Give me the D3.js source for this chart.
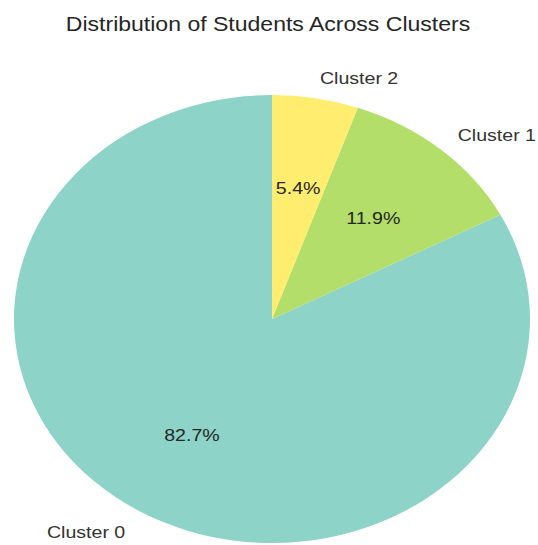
<!DOCTYPE html>
<html>
<head>
<meta charset="utf-8">
<script src="https://cdn.jsdelivr.net/npm/d3@7/dist/d3.min.js"></script>
<style>
  html, body { margin: 0; padding: 0; background: #ffffff; }
  svg { display: block; }
  text { font-family: "Liberation Sans", Arial, sans-serif; }
</style>
</head>
<body>
<svg id="chart" width="538" height="545"></svg>
<script>
// Cluster shares (percent of students)
const clusters = ["Cluster 0", "Cluster 1", "Cluster 2"];
const shares = [82.7, 11.9, 5.4];
const sliceColors = ["#8dd3c7", "#b3de69", "#ffed6f"];
const chartTitle = "Distribution of Students Across Clusters";

const W = 538, H = 545;
const cx = 272, cy = 319;
const rx = 258, ry = 224;
const sx = rx / ry; // horizontal stretch applied to the whole figure

const svg = d3.select("#chart");

svg.append("text")
  .attr("transform", `translate(268,31) scale(${sx},1)`)
  .attr("text-anchor", "middle")
  .attr("font-size", 20)
  .attr("fill", "#262626")
  .text(chartTitle);

// Wedges run counter-clockwise starting at 12 o'clock
const pie = d3.pie()
  .sort(null)
  .value(d => d.value)
  .startAngle(0)
  .endAngle(-2 * Math.PI);

const data = clusters.map((c, i) => ({ name: c, value: shares[i], color: sliceColors[i] }));
const arcs = pie(data);

const arc = d3.arc().innerRadius(0).outerRadius(ry);

const g = svg.append("g")
  .attr("transform", `translate(${cx},${cy}) scale(${sx},1)`);

g.selectAll("path.slice")
  .data(arcs)
  .join("path")
  .attr("class", "slice")
  .attr("d", arc)
  .attr("fill", d => d.data.color);

function pointAt(a, f) {
  return [cx + f * rx * Math.sin(a), cy - f * ry * Math.cos(a)];
}

// Category labels outside the pie
svg.selectAll("text.cat")
  .data(arcs)
  .join("text")
  .attr("class", "cat")
  .each(function(d) {
    const mid = (d.startAngle + d.endAngle) / 2;
    const [x, y] = pointAt(mid, 1.1);
    d3.select(this)
      .attr("transform", `translate(${x},${y + 2}) scale(${sx},1)`)
      .attr("text-anchor", Math.sin(mid) >= 0 ? "start" : "end");
  })
  .attr("dominant-baseline", "central")
  .attr("font-size", 17)
  .attr("fill", "#333333")
  .text(d => d.data.name);

// Percentage labels inside the wedges
svg.selectAll("text.pct")
  .data(arcs)
  .join("text")
  .attr("class", "pct")
  .each(function(d) {
    const mid = (d.startAngle + d.endAngle) / 2;
    const [x, y] = pointAt(mid, 0.6);
    d3.select(this).attr("transform", `translate(${x},${y + 1}) scale(${sx},1)`);
  })
  .attr("text-anchor", "middle")
  .attr("dominant-baseline", "central")
  .attr("font-size", 17)
  .attr("fill", "#262626")
  .text(d => d.data.value.toFixed(1) + "%");
</script>
</body>
</html>
